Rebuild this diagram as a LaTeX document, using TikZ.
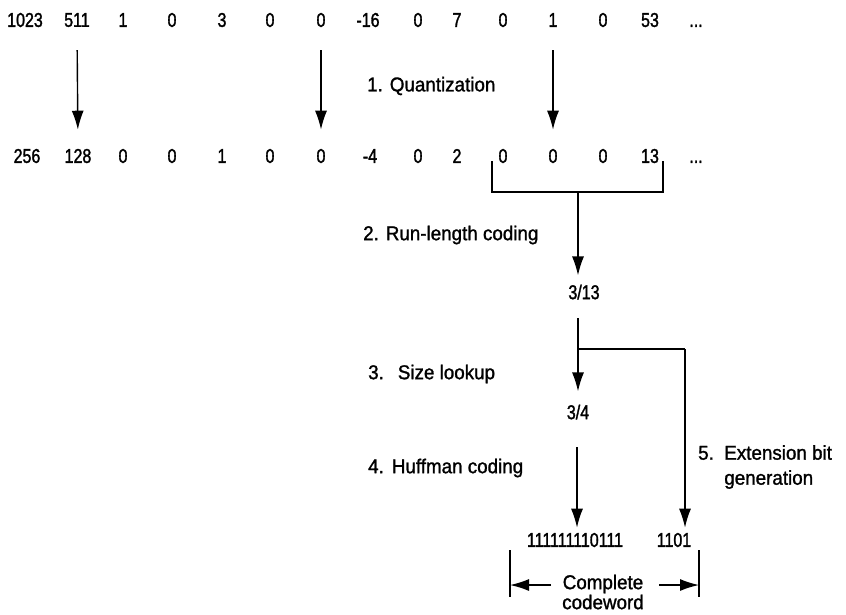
\documentclass[tikz,border=0pt]{standalone}
\usepackage{fontspec}
\setmainfont{Liberation Sans}[FakeStretch=0.94, FakeBold=1.3]
\newfontfamily\numfont{Liberation Sans}[FakeStretch=0.8, FakeBold=1.5]
\usetikzlibrary{arrows.meta}
\newcommand\etcdots{\vphantom{0}...}
\tikzset{
  num/.style={inner sep=0pt, font=\numfont\fontsize{20}{22}\selectfont},
  lbl/.style={inner sep=0pt, anchor=west, font=\fontsize{20}{25}\selectfont},
  arr/.style={line width=1.4pt, -{Latex[length=19pt,width=12pt]}},
  ln/.style={line width=1.4pt},
}
\begin{document}
\begin{tikzpicture}[x=1pt,y=-1pt]
\useasboundingbox (0,0) rectangle (846,614);
% input coefficients
\foreach \v/\x [count=\i] in {1023/25,511/77,1/123,0/172,3/222,0/270,0/321,-16/368,0/418,7/457,0/503,1/553,0/603,53/650,\etcdots/696}
  \node[num] (t\i) at (\x,20) {\v};
% quantized coefficients
\foreach \v/\x [count=\i] in {256/27,128/78,0/123,0/172,1/222,0/270,0/321,-4/370,0/418,2/457,0/503,0/553,0/603,13/650,\etcdots/696}
  \node[num] (b\i) at (\x,156) {\v};
\draw[arr, shorten <=23pt, shorten >=19pt] (t2.south) -- (b2.north);
\draw[arr, shorten <=23pt, shorten >=19pt] (t7.south) -- (b7.north);
\draw[arr, shorten <=23pt, shorten >=19pt] (t12.south) -- (b12.north);
\node[lbl] (q) at (367,86) {1. Quantization};
% run of zeros bracket
\coordinate (bl) at (492,161);
\coordinate (blb) at (492,192);
\coordinate (brb) at (663,192);
\coordinate (brt) at (663,161);
\coordinate (bm) at (578,192);
\draw[ln] (bl) -- (blb) -- (brb) -- (brt);
\node[lbl] (rl) at (363,235) {2. Run-length coding};
\node[num] (r1) at (584,292) {3/13};
\draw[arr, shorten >=9pt] (bm) -- (bm |- r1.north);
% size lookup
\node[lbl] (sl) at (368,374) {3.\hspace{14pt}Size lookup};
\node[num] (s1) at (578,412) {3/4};
\coordinate (rs) at (578,299);
\coordinate (br) at (578,349);
\draw[arr, shorten <=19pt, shorten >=13pt] (rs) -- (s1.north);
% Huffman coding and extension bits
\node[lbl] (hl) at (368,468) {4.\hspace{8pt}Huffman coding};
\node[num] (h1) at (575,540) {111111110111};
\node[num] (e1) at (674,540) {1101};
\coordinate (bc) at (685,349);
\draw[ln] (br) -- (bc);
\draw[arr, shorten >=5pt] (bc) -- (bc |- e1.north);
\coordinate (hs) at (577,419);
\draw[arr, shorten <=28pt, shorten >=5pt] (hs) -- (hs |- h1.north);
\node[lbl, align=left] (el) at (698,467) {5.\ \ Extension bit\\\hphantom{5.\ \ }generation};
% complete codeword span
\coordinate (dlt) at (510,550);
\coordinate (dlb) at (510,597);
\coordinate (drt) at (699,550);
\coordinate (drb) at (699,597);
\draw[ln] (dlt) -- (dlb);
\draw[ln] (drt) -- (drb);
\node[lbl, anchor=center, align=center, font=\fontsize{20}{20}\selectfont] (cw) at (603,592) {Complete\\codeword};
\coordinate (al) at (551,585);
\coordinate (ar) at (659,585);
\draw[arr] (al) -- (al -| dlt);
\draw[arr] (ar) -- (ar -| drt);
\end{tikzpicture}
\end{document}
